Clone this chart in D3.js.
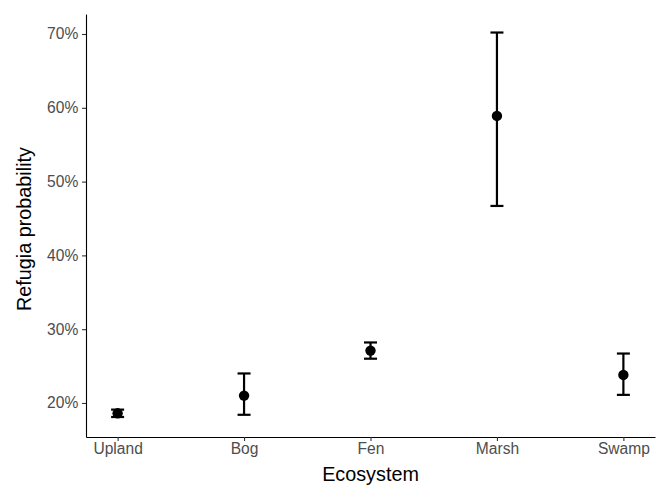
<!DOCTYPE html>
<html>
<head>
<meta charset="utf-8">
<script src="https://cdn.jsdelivr.net/npm/d3@7"></script>
<style>
  body { margin: 0; background: #fff; }
  text { font-family: "Liberation Sans", Arial, sans-serif; }
</style>
</head>
<body>
<svg id="chart" width="660" height="485"></svg>
<script>
// values
const ecosystems = ['Upland', 'Bog', 'Fen', 'Marsh', 'Swamp'];
const estimate = [0.186, 0.210, 0.271, 0.589, 0.238];
const lower = [0.181, 0.184, 0.260, 0.467, 0.211];
const upper = [0.191, 0.240, 0.282, 0.702, 0.267];
const yTicks = [0.2, 0.3, 0.4, 0.5, 0.6, 0.7];

const data = ecosystems.map((name, i) => ({ name, est: estimate[i], lo: lower[i], hi: upper[i] }));

const margin = { left: 86, right: 5, top: 14, bottom: 48 };
const width = 660, height = 485;

const svg = d3.select('#chart');

const x = d3.scalePoint()
    .domain(ecosystems)
    .range([margin.left, width - margin.right])
    .padding(0.25);

const y = d3.scaleLinear()
    .domain([0.1539, 0.7271])
    .range([height - margin.bottom, margin.top]);

// axes
const xAxis = svg.append('g')
    .attr('transform', 'translate(0,' + (height - margin.bottom) + ')')
    .call(d3.axisBottom(x).tickSize(4).tickSizeOuter(0).tickPadding(2));
const yAxis = svg.append('g')
    .attr('transform', 'translate(' + margin.left + ',0)')
    .call(d3.axisLeft(y).tickValues(yTicks).tickFormat(d3.format('.0%')).tickSize(4).tickSizeOuter(0).tickPadding(3.7));

[xAxis, yAxis].forEach((g) => {
    g.attr('font-size', null).attr('font-family', null);
    g.select('.domain').attr('stroke', '#000').attr('stroke-width', 1.1);
    g.selectAll('.tick line').attr('stroke', '#333').attr('stroke-width', 1.1);
    g.selectAll('.tick text').attr('fill', '#4d4d4d').style('font-size', '15.6px');
});

// titles
svg.append('text')
    .attr('x', (margin.left + width - margin.right) / 2)
    .attr('y', 481)
    .attr('text-anchor', 'middle')
    .style('font-size', '19.8px')
    .attr('fill', '#000')
    .text('Ecosystem');
svg.append('text')
    .attr('transform', 'translate(31,229) rotate(-90)')
    .attr('text-anchor', 'middle')
    .style('font-size', '19.8px')
    .attr('fill', '#000')
    .text('Refugia probability');

// error bars
const capHalf = 6.5;
const bars = svg.append('g')
    .selectAll('g')
    .data(data)
    .join('g')
    .attr('stroke', '#000')
    .attr('stroke-width', 2.2);
bars.append('line')
    .attr('x1', (d) => x(d.name))
    .attr('x2', (d) => x(d.name))
    .attr('y1', (d) => y(d.lo))
    .attr('y2', (d) => y(d.hi));
bars.append('line')
    .attr('x1', (d) => x(d.name) - capHalf)
    .attr('x2', (d) => x(d.name) + capHalf)
    .attr('y1', (d) => y(d.hi))
    .attr('y2', (d) => y(d.hi));
bars.append('line')
    .attr('x1', (d) => x(d.name) - capHalf)
    .attr('x2', (d) => x(d.name) + capHalf)
    .attr('y1', (d) => y(d.lo))
    .attr('y2', (d) => y(d.lo));

// points
svg.append('g')
    .selectAll('circle')
    .data(data)
    .join('circle')
    .attr('cx', (d) => x(d.name))
    .attr('cy', (d) => y(d.est))
    .attr('r', 5.2)
    .attr('fill', '#000');
</script>
</body>
</html>
